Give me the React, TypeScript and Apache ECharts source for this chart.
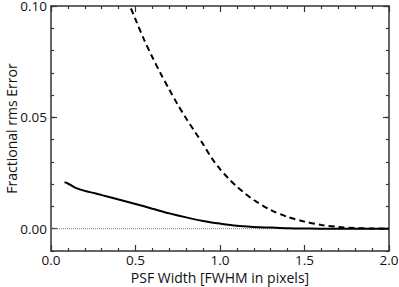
import React, { useEffect, useRef } from "react";
import * as echarts from "echarts";

const solidX = [0.08, 0.1, 0.12, 0.15, 0.2, 0.26, 0.3, 0.4, 0.5, 0.6, 0.7, 0.8, 0.9, 1.0, 1.1, 1.2, 1.3, 1.4, 1.5, 1.6, 1.7, 1.8, 1.9, 2.0];
const solidY = [0.0209, 0.0203, 0.0195, 0.0182, 0.0170, 0.0159, 0.0151, 0.0131, 0.0111, 0.0090, 0.0069, 0.0051, 0.0035, 0.0023, 0.0013, 0.0008, 0.0005, 0.0002, 0.0001, 0, 0, 0, 0, 0];

const dashedX = [0.45, 0.5, 0.55, 0.6, 0.65, 0.7, 0.75, 0.8, 0.85, 0.9, 0.95, 1.0, 1.05, 1.1, 1.15, 1.2, 1.3, 1.4, 1.5, 1.6, 1.7, 1.8, 1.9, 2.0];
const dashedY = [0.103, 0.094, 0.085, 0.077, 0.0695, 0.0625, 0.0557, 0.0495, 0.0437, 0.038, 0.0318, 0.0268, 0.0226, 0.0189, 0.0157, 0.0129, 0.0084, 0.0053, 0.0032, 0.0017, 0.0008, 0.0003, 0.0001, 0];

const zeroX = [0, 2];
const zeroY = [0, 0];

const xTicks = { min: 0, max: 2, interval: 0.5 };
const yRange = { min: -0.01, max: 0.1, interval: 0.01 };
const yMajorTicks = [0, 0.05, 0.1];

const FONT = "Open Sans";
const AXIS_COLOR = "#333";

function pairs(xs: number[], ys: number[]) {
  return xs.map((x, i) => [x, ys[i]]);
}

export default function App() {
  const ref = useRef<HTMLDivElement>(null);
  useEffect(() => {
    if (!ref.current) return;
    const chart = echarts.init(ref.current, null, { renderer: "svg" });
    const lineStyleAxis = { show: true, onZero: false, lineStyle: { color: AXIS_COLOR, width: 1.5 } };
    const xCommon = {
      type: "value" as const,
      min: xTicks.min,
      max: xTicks.max,
      interval: xTicks.interval,
      axisLine: lineStyleAxis,
      axisTick: { show: true, inside: true, length: 6, lineStyle: { color: AXIS_COLOR, width: 1.2 } },
      minorTick: { show: true, splitNumber: 5, length: 3, lineStyle: { color: AXIS_COLOR, width: 1.2 } },
      splitLine: { show: false },
      minorSplitLine: { show: false },
    };
    const yMinor = {
      type: "value" as const,
      min: yRange.min,
      max: yRange.max,
      interval: yRange.interval,
      axisLine: lineStyleAxis,
      axisTick: { show: true, inside: true, length: 3, lineStyle: { color: AXIS_COLOR, width: 1.2 } },
      splitLine: { show: false },
    };
    const yMajor = {
      type: "value" as const,
      min: yRange.min,
      max: yRange.max,
      axisLine: { show: false, onZero: false },
      axisLabel: { show: false },
      axisTick: { show: true, inside: true, length: 6, customValues: yMajorTicks, lineStyle: { color: AXIS_COLOR, width: 1.2 } },
      splitLine: { show: false },
    };
    chart.setOption({
      animation: false,
      grid: { left: 51, right: 10, top: 6, bottom: 36, containLabel: false, outerBoundsMode: "none" },
      xAxis: [
        {
          ...xCommon,
          position: "bottom",
          name: "PSF Width [FWHM in pixels]",
          nameLocation: "middle",
          nameGap: 19,
          nameMoveOverlap: false,
          nameTextStyle: { fontFamily: FONT, fontSize: 14, color: "#111" },
          axisLabel: {
            margin: 2,
            fontFamily: FONT,
            fontSize: 13.5,
            color: "#111",
            formatter: (v: number) => v.toFixed(1),
          },
        },
        { ...xCommon, position: "top", axisLabel: { show: false } },
      ],
      yAxis: [
        {
          ...yMinor,
          position: "left",
          name: "Fractional rms Error",
          nameLocation: "middle",
          nameGap: 33,
          nameMoveOverlap: false,
          nameTextStyle: { fontFamily: FONT, fontSize: 14, color: "#111" },
          axisLabel: {
            margin: 4,
            fontFamily: FONT,
            fontSize: 13.5,
            color: "#111",
            formatter: (v: number) => {
              const r = v / 0.05;
              return Math.abs(r - Math.round(r)) < 1e-6 && v >= -1e-9 ? v.toFixed(2) : "";
            },
          },
        },
        { ...yMinor, position: "right", axisLabel: { show: false } },
        { ...yMajor, position: "left" },
        { ...yMajor, position: "right" },
      ],
      series: [
        {
          type: "line",
          data: pairs(zeroX, zeroY),
          symbol: "none",
          lineStyle: { color: "#777", width: 1, type: "dotted" },
          xAxisIndex: 0,
          yAxisIndex: 0,
          z: 1,
        },
        {
          type: "line",
          data: pairs(solidX, solidY),
          symbol: "none",
          smooth: 0.3,
          clip: true,
          lineStyle: { color: "#000", width: 2 },
          xAxisIndex: 0,
          yAxisIndex: 0,
          z: 3,
        },
        {
          type: "line",
          data: pairs(dashedX, dashedY),
          symbol: "none",
          smooth: 0.3,
          clip: true,
          lineStyle: { color: "#000", width: 2, type: [6, 4] },
          xAxisIndex: 0,
          yAxisIndex: 0,
          z: 3,
        },
      ],
    });
    return () => chart.dispose();
  }, []);
  return <div ref={ref} style={{ position: "absolute", left: 0, top: 0, width: 399, height: 287 }} />;
}
